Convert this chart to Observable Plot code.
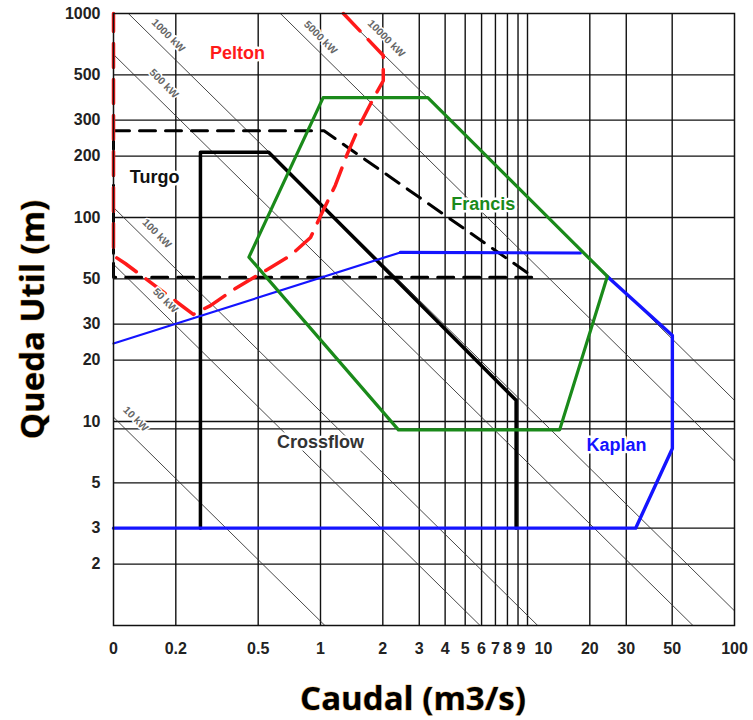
<!DOCTYPE html>
<html><head><meta charset="utf-8">
<script src="https://cdn.jsdelivr.net/npm/d3@7"></script>
<script src="https://cdn.jsdelivr.net/npm/@observablehq/plot@0.6"></script>
<style>body{margin:0;background:#fff} svg{display:block}</style>
</head><body><div id="chart"></div>
<script>
// ---- axes / grid ----
const xTicks = [0.1, 0.2, 0.5, 1, 2, 3, 4, 5, 6, 7, 8, 9, 10, 20, 30, 50, 100];
const xTickLabels = ["0", "0.2", "0.5", "1", "2", "3", "4", "5", "6", "7", "8", "9", "10", "20", "30", "50", "100"];
const yTicks = [2, 3, 5, 10, 20, 30, 50, 100, 200, 300, 500, 1000];
const yTickLabels = ["2", "3", "5", "10", "20", "30", "50", "100", "200", "300", "500", "1000"];
const yExtraGrid = [9.2];

// ---- iso-power lines (constant Q*H) ----
const powerNames = ["10 kW", "50 kW", "100 kW", "500 kW", "1000 kW", "5000 kW", "10000 kW"];
const powerQH = [1.05, 5.9, 11.2, 63, 118, 640, 1270];
const powerLabelQ = [0.128, 0.178, 0.162, 0.175, 0.184, 1.0, 2.08];
const powerLabelH = [10.3, 39.2, 83.5, 454, 780, 763, 754];

// ---- turbine envelopes (Q m3/s, H m) ----
const peltonQ = [1.29, 2.01, 2.01, 1.78, 1.56, 1.35, 1.18, 1.02, 0.895, 0.716, 0.525, 0.388, 0.294, 0.243, 0.114, 0.1, 0.1];
const peltonH = [1000, 623, 468, 375, 289, 206, 144, 106, 79.8, 65.1, 53.8, 44.9, 37.0, 33.5, 59.5, 65, 1000];

const turgoQ = [0.1, 1.04, 10.7, 0.1, 0.1];
const turgoH = [266, 266, 51, 51, 266];

const crossQ = [0.263, 0.263, 0.562, 8.81, 8.81];
const crossH = [3, 209, 209, 12.7, 3];

const francisQ = [1.03, 3.3, 24.3, 14.3, 2.38, 0.451, 1.03];
const francisH = [387, 387, 51.4, 9.1, 9.1, 63.9, 387];

const kaplanLowQ = [0.1, 2.43];
const kaplanLowH = [24.1, 67.4];
const kaplanTopQ = [2.43, 18.0];
const kaplanTopH = [67.4, 67.0];
const kaplanRightQ = [24.3, 50.1, 50.1, 33.3, 0.1];
const kaplanRightH = [51.4, 26.4, 7.37, 3.0, 3.0];

// ---- region labels ----
const regionNames = ["Pelton", "Turgo", "Francis", "Crossflow", "Kaplan"];
const regionQ = [0.397, 0.158, 6.12, 1.0, 26.9];
const regionH = [637, 157, 116, 7.89, 7.63];

// ---- build tables ----
const pts = (Q, H) => Q.map((q, i) => ({Q: q, H: H[i]}));
const xTickData = xTicks.map((d, i) => ({Q: d, label: xTickLabels[i]}));
const yTickData = yTicks.map((d, i) => ({H: d, label: yTickLabels[i]}));
const powerLines = powerQH.flatMap((k, i) => [
  {Q: 0.1, H: k / 0.1, name: powerNames[i]},
  {Q: 100, H: k / 100, name: powerNames[i]}
]);
const powerLabels = powerNames.map((n, i) => ({name: n, Q: powerLabelQ[i], H: powerLabelH[i]}));
const regions = regionNames.map((n, i) => ({name: n, Q: regionQ[i], H: regionH[i]}));
const reg = n => regions.filter(d => d.name === n);

const labelFont = "'Liberation Sans', Arial, sans-serif";
const titleFont = "'Open Sans', Lato, sans-serif";
const regionText = {x: "Q", y: "H", text: "name", fontSize: 18, fontWeight: "bold", stroke: "#fff", strokeWidth: 5};
const titleStyle = {fontSize: 33, fontWeight: "bold", letterSpacing: 1.5, fontFamily: titleFont, fill: "#000",
  stroke: "#e89520", strokeWidth: 1.2, strokeOpacity: 0.6, textAnchor: "middle", lineAnchor: "middle"};
const xTickStyle = {x: "Q", text: "label", frameAnchor: "bottom", lineAnchor: "middle", dy: 23,
  fontSize: 16, fontWeight: "bold", fill: "#222"};

const chart = Plot.plot({
  width: 753, height: 720,
  marginLeft: 113, marginRight: 19, marginTop: 13, marginBottom: 95,
  x: {type: "log", domain: [0.1, 100], axis: null},
  y: {type: "log", domain: [1, 1000], axis: null},
  style: {fontFamily: labelFont, background: "#fff", overflow: "visible"},
  marks: [
    Plot.ruleX(xTicks.slice(1, -1), {stroke: "#111", strokeWidth: 1.4}),
    Plot.ruleY([...yTicks.slice(0, -1), ...yExtraGrid], {stroke: "#111", strokeWidth: 1.4}),
    Plot.line(powerLines, {x: "Q", y: "H", z: "name", stroke: "#333", strokeWidth: 0.9, clip: true}),
    Plot.line(pts(turgoQ, turgoH), {x: "Q", y: "H", stroke: "#000", strokeWidth: 3, strokeDasharray: "16,10"}),
    Plot.line(pts(crossQ, crossH), {x: "Q", y: "H", stroke: "#000", strokeWidth: 3.5}),
    Plot.line(pts(kaplanLowQ, kaplanLowH), {x: "Q", y: "H", stroke: "#1414ff", strokeWidth: 2.2}),
    Plot.line(pts(kaplanTopQ, kaplanTopH), {x: "Q", y: "H", stroke: "#1414ff", strokeWidth: 3.2}),
    Plot.line(pts(kaplanRightQ, kaplanRightH), {x: "Q", y: "H", stroke: "#1414ff", strokeWidth: 3.4}),
    Plot.line(pts(francisQ, francisH), {x: "Q", y: "H", stroke: "#1a8a1a", strokeWidth: 3.2}),
    Plot.line(pts(peltonQ, peltonH), {x: "Q", y: "H", stroke: "#ff1a1a", strokeWidth: 3.5, strokeDasharray: "24,12"}),
    Plot.frame({stroke: "#111", strokeWidth: 1.5}),
    Plot.text(powerLabels, {x: "Q", y: "H", text: "name", rotate: 45, fontSize: 10.5, fontWeight: "bold",
      fill: "#666", stroke: "#fff", strokeWidth: 3}),
    Plot.text(reg("Pelton"), {...regionText, fill: "#ff1a1a", letterSpacing: 2}),
    Plot.text(reg("Turgo"), {...regionText, fill: "#111", letterSpacing: 1.5}),
    Plot.text(reg("Francis"), {...regionText, fill: "#1a8a1a", letterSpacing: 0.8}),
    Plot.text(reg("Crossflow"), {...regionText, fill: "#333", letterSpacing: 0.4}),
    Plot.text(reg("Kaplan"), {...regionText, fill: "#1414ff", letterSpacing: 1.5}),
    // tick labels ("10" and "9" sit just right of their gridlines, as in the original, to stay apart)
    Plot.text(xTickData.filter(d => d.label !== "10" && d.label !== "9"), xTickStyle),
    Plot.text(xTickData.filter(d => d.label === "9"), {...xTickStyle, dx: 3}),
    Plot.text(xTickData.filter(d => d.label === "10"), {...xTickStyle, dx: 16}),
    Plot.text(yTickData, {y: "H", text: "label", frameAnchor: "left", textAnchor: "end", lineAnchor: "middle", dx: -13,
      fontSize: 16, fontWeight: "bold", letterSpacing: 2, fill: "#222"}),
    // axis titles
    Plot.text(["Queda Util (m)"], {...titleStyle, frameAnchor: "left", dx: -80, rotate: -90}),
    Plot.text(["Caudal (m3/s)"], {...titleStyle, frameAnchor: "bottom", dx: -11, dy: 74})
  ]
});
document.getElementById("chart").append(chart);
</script>
</body></html>
